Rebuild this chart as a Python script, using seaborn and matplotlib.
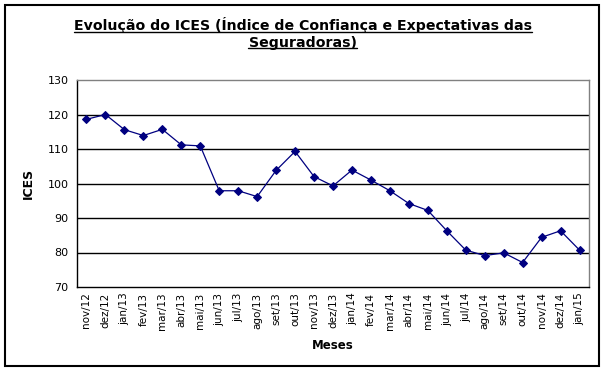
import matplotlib
matplotlib.use("Agg")
import matplotlib.pyplot as plt
from matplotlib.patches import Rectangle
from matplotlib.lines import Line2D
from matplotlib.ticker import FixedLocator
import seaborn as sns
import pandas as pd
import numpy as np

# dados
meses = ["nov/12", "dez/12", "jan/13", "fev/13", "mar/13", "abr/13", "mai/13",
         "jun/13", "jul/13", "ago/13", "set/13", "out/13", "nov/13", "dez/13",
         "jan/14", "fev/14", "mar/14", "abr/14", "mai/14", "jun/14", "jul/14",
         "ago/14", "set/14", "out/14", "nov/14", "dez/14", "jan/15"]
ices = [118.6, 120.0, 115.6, 113.9, 115.7, 111.2, 110.9,
        97.9, 97.9, 96.2, 103.8, 109.3, 102.0, 99.3,
        103.9, 101.0, 97.9, 94.2, 92.2, 86.3, 80.7,
        79.1, 79.9, 77.1, 84.4, 86.3, 80.7]
y_ticks = [70, 80, 90, 100, 110, 120, 130]

df = pd.DataFrame({"Meses": meses, "ICES": ices})

sns.set_style("white")
plt.rcParams["font.family"] = ["DejaVu Sans"]
plt.rcParams["text.color"] = "black"
plt.rcParams["axes.labelcolor"] = "black"
plt.rcParams["xtick.color"] = "black"
plt.rcParams["ytick.color"] = "black"

fig = plt.figure(figsize=(6.05, 3.72), dpi=100)
ax = fig.add_axes([77 / 605, 1 - 287 / 372, (589 - 77) / 605, (287 - 80) / 372])

sns.lineplot(data=df, x="Meses", y="ICES", ax=ax, color="#000080",
             marker="D", markersize=4.5, markeredgecolor="#000080",
             linewidth=0.9, sort=False)

n = len(meses)
ax.set_xlim(-0.5, n - 0.5)
ax.set_ylim(70, 130)
ax.set_yticks(y_ticks)
ax.set_xticks(range(n))
ax.set_xticklabels(meses, rotation=90, fontsize=7.5)
ax.xaxis.set_minor_locator(FixedLocator(np.arange(-0.5, n, 1)))
ax.tick_params(axis="x", which="major", length=0, pad=4)
ax.tick_params(axis="x", which="minor", length=4, width=0.8, direction="out")
ax.tick_params(axis="y", length=4, width=0.8, direction="out", labelsize=8, pad=2)

for v in y_ticks[1:-1]:
    ax.axhline(v, color="black", linewidth=1, zorder=0)

for s in ["left", "bottom"]:
    ax.spines[s].set_color("black")
    ax.spines[s].set_linewidth(1)
for s in ["top", "right"]:
    ax.spines[s].set_color("#808080")
    ax.spines[s].set_linewidth(1)

ax.set_xlabel("Meses", fontsize=8.5, fontweight="bold", labelpad=6)
ax.set_ylabel("ICES", fontsize=9, fontweight="bold", labelpad=9)

# titulo sublinhado
t1 = fig.text(0.5, 1 - 25 / 372, "Evolução do ICES (Índice de Confiança e Expectativas das",
              ha="center", va="center", fontsize=10.2, fontweight="bold")
t2 = fig.text(0.5, 1 - 43 / 372, "Seguradoras)",
              ha="center", va="center", fontsize=10.2, fontweight="bold")
fig.canvas.draw()
r = fig.canvas.get_renderer()
for t in (t1, t2):
    bb = t.get_window_extent(r).transformed(fig.transFigure.inverted())
    yy = bb.y0 + 1.5 / 372
    fig.add_artist(Line2D([bb.x0, bb.x1], [yy, yy], color="black", linewidth=1,
                          transform=fig.transFigure))

fig.add_artist(Rectangle((5 / 605, 6 / 372), 594 / 605, 361 / 372, fill=False,
                         edgecolor="black", linewidth=1.5, transform=fig.transFigure))

fig.savefig("out.png", dpi=100)
